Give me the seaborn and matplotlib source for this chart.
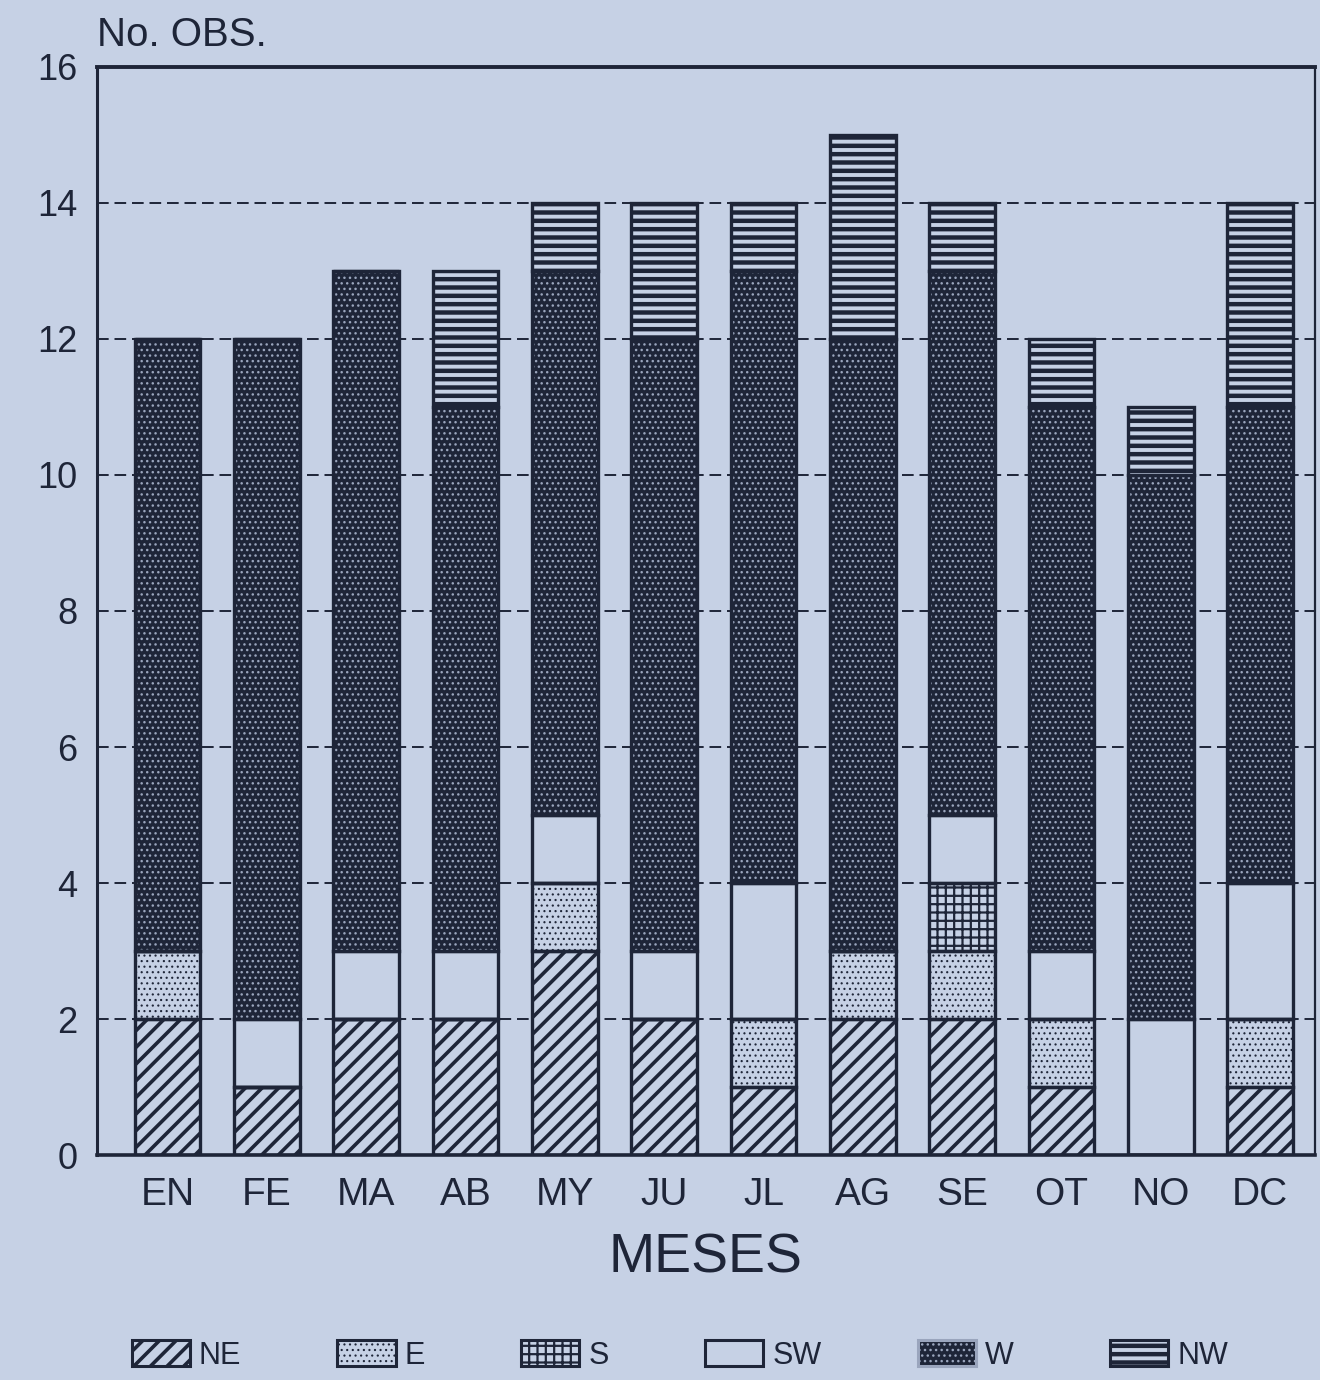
# Número de observaciones por mes y dirección del viento (barras apiladas)
import seaborn as sns
import matplotlib.pyplot as plt
import pandas as pd
from matplotlib.patches import Patch

meses = ['EN', 'FE', 'MA', 'AB', 'MY', 'JU', 'JL', 'AG', 'SE', 'OT', 'NO', 'DC']
ne = [2, 1, 2, 2, 3, 2, 1, 2, 2, 1, 0, 1]
e = [1, 0, 0, 0, 1, 0, 1, 1, 1, 1, 0, 1]
s = [0, 0, 0, 0, 0, 0, 0, 0, 1, 0, 0, 0]
sw = [0, 1, 1, 1, 1, 1, 2, 0, 1, 1, 2, 2]
w = [9, 10, 10, 8, 8, 9, 9, 9, 8, 8, 8, 7]
nw = [0, 0, 0, 2, 1, 2, 1, 3, 1, 1, 1, 3]
direcciones = ['NE', 'E', 'S', 'SW', 'W', 'NW']
yticks = [0, 2, 4, 6, 8, 10, 12, 14, 16]

papel = '#c6d1e5'
tinta = '#1e2538'

# estilo de cada capa: relleno, trama, color de trama, grosor de trama
estilos = {
    'NE': (papel, '//', tinta, 2.6),
    'E': (papel, '...', tinta, 0.8),
    'S': (papel, '++', tinta, 1.6),
    'SW': (papel, '', tinta, 1.0),
    'W': (tinta, '...', '#9aa5bd', 1.0),
    'NW': (papel, '--', tinta, 3.2),
}

df = pd.DataFrame({'mes': meses, 'NE': ne, 'E': e, 'S': s, 'SW': sw, 'W': w, 'NW': nw})

sns.set_style('white')
plt.rcParams['font.family'] = ['Liberation Sans', 'DejaVu Sans']

fig = plt.figure(figsize=(13.2, 13.8), dpi=100, facecolor=papel)
ax = fig.add_axes([0.0735, 0.163, 0.9225, 0.7885])
ax.set_facecolor(papel)

# rellenos con trama
base = pd.Series([0] * len(meses))
bottoms = {}
for d in direcciones:
    fc, hatch, hc, hlw = estilos[d]
    bottoms[d] = base.copy()
    n0 = len(ax.patches)
    with plt.rc_context({'hatch.linewidth': hlw}):
        sns.barplot(data=df, x='mes', y=d, order=meses, bottom=base.values, width=0.66,
                    errorbar=None, color=fc, facecolor=fc, edgecolor=hc, hatch=hatch,
                    linewidth=0, ax=ax, zorder=2)
    for p in ax.patches[n0:]:
        if hasattr(p, 'set_hatch_linewidth'):
            p.set_hatch_linewidth(hlw)
    base = base + df[d]

# contornos de cada segmento
for d in direcciones:
    sns.barplot(data=df, x='mes', y=d, order=meses, bottom=bottoms[d].values, width=0.66,
                errorbar=None, color=tinta, facecolor='none', edgecolor=tinta, linewidth=2.4,
                ax=ax, zorder=3)

ax.set_xlim(-0.71, 11.55)
ax.set_ylim(0, 16)
ax.set_yticks(yticks)
ax.set_yticklabels([str(v) for v in yticks])
ax.yaxis.grid(True, linestyle=(0, (6, 3)), color=tinta, linewidth=1.4)
ax.xaxis.grid(False)
ax.set_axisbelow(True)

for lado, lw in [('left', 2.2), ('bottom', 2.6), ('top', 2.8), ('right', 1.6)]:
    ax.spines[lado].set_visible(True)
    ax.spines[lado].set_color(tinta)
    ax.spines[lado].set_linewidth(lw)

ax.tick_params(axis='y', length=0, pad=14, labelsize=26, labelcolor=tinta)
ax.tick_params(axis='x', length=0, pad=16, labelsize=28, labelcolor=tinta)
ax.set_xlabel('MESES', fontsize=40, color=tinta, labelpad=14)
ax.set_ylabel('')
ax.text(0, 1.012, 'No. OBS.', transform=ax.transAxes, ha='left', va='bottom',
        fontsize=29, color=tinta)

# leyenda
handles = []
for d in direcciones:
    fc, hatch, hc, hlw = estilos[d]
    handles.append(Patch(facecolor=fc, edgecolor=tinta if d != 'W' else hc,
                         hatch=hatch, linewidth=2.2, label=d))
leg = fig.legend(handles=handles, loc='center', bbox_to_anchor=(0.515, 0.018), ncol=6,
                 frameon=False, fontsize=22, handlelength=1.9, handleheight=0.95,
                 handletextpad=0.3, columnspacing=3.15, labelcolor=tinta)
for p, d in zip(leg.get_patches(), direcciones):
    if hasattr(p, 'set_hatch_linewidth'):
        p.set_hatch_linewidth(estilos[d][3])
    if d == 'W':
        p.set_edgecolor(estilos[d][2])

fig.savefig('out.png', dpi=100, facecolor=papel)
